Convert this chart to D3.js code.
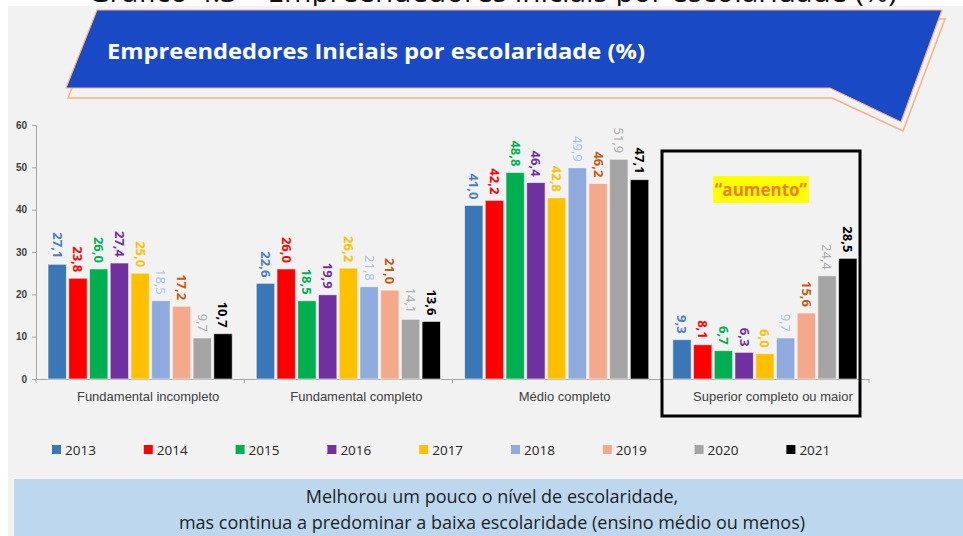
<!DOCTYPE html>
<html>
<head>
<meta charset="utf-8">
<script src="https://cdn.jsdelivr.net/npm/d3@7"></script>
<style>
  body { margin: 0; background: #fff; }
  svg { display: block; font-family: "Open Sans", sans-serif; }
</style>
</head>
<body>
<div id="chart"></div>
<script>
// data
const categories = ["Fundamental incompleto", "Fundamental completo", "Médio completo", "Superior completo ou maior"];
const years = ["2013", "2014", "2015", "2016", "2017", "2018", "2019", "2020", "2021"];
const fundIncompleto = [27.1, 23.8, 26.0, 27.4, 25.0, 18.5, 17.2, 9.7, 10.7];
const fundCompleto = [22.6, 26.0, 18.5, 19.9, 26.2, 21.8, 21.0, 14.1, 13.6];
const medioCompleto = [41.0, 42.2, 48.8, 46.4, 42.8, 49.9, 46.2, 51.9, 47.1];
const superior = [9.3, 8.1, 6.7, 6.3, 6.0, 9.7, 15.6, 24.4, 28.5];
const yTicks = [0, 10, 20, 30, 40, 50, 60];

// colours per year
const barColors = ["#3a77b7", "#ff0000", "#00b050", "#7030a0", "#ffc000", "#8faadc", "#f4aa8a", "#a5a5a5", "#000000"];
const labelColors = ["#4a7fc0", "#ff0000", "#00b050", "#7030a0", "#ffc000", "#9dc3e6", "#c55a11", "#a6a6a6", "#000000"];
const labelWeights = ["bold", "bold", "bold", "bold", "bold", "normal", "bold", "normal", "bold"];

const seriesByCat = [fundIncompleto, fundCompleto, medioCompleto, superior];
const table = [];
categories.forEach((c, i) => {
    years.forEach((y, j) => table.push({cat: c, year: y, yi: j, value: seriesByCat[i][j]}));
});

const width = 963, height = 536;
const svg = d3.select("#chart").append("svg")
    .attr("width", width)
    .attr("height", height);

// cut-off heading above the panel (only its bottom edge shows)
svg.append("text")
    .attr("x", 88).attr("y", 1.5)
    .attr("textLength", 809)
    .attr("lengthAdjust", "spacingAndGlyphs")
    .style("font-size", "27px")
    .attr("fill", "#111")
    .text("Gráfico 4.3 – Empreendedores iniciais por escolaridade (%)");

// gray panel
svg.append("rect")
    .attr("x", 8).attr("y", 6)
    .attr("width", width - 8).attr("height", height - 6)
    .attr("fill", "#f2f2f2");

// banner
const bannerBack = [[100, 19], [945, 19], [903, 131], [832, 98], [68, 98]];
const bannerFront = [[97, 10], [942, 10], [901, 122], [830, 88], [66, 88]];
svg.append("polygon")
    .attr("points", bannerBack.join(" "))
    .attr("fill", "none")
    .attr("stroke", "#f8b27e")
    .attr("stroke-width", 1.5);
svg.append("polygon")
    .attr("points", bannerFront.join(" "))
    .attr("fill", "#1a49c6")
    .attr("stroke", "#f8b27e")
    .attr("stroke-width", 1.2);
svg.append("text")
    .attr("x", 107).attr("y", 59)
    .attr("fill", "#fff")
    .attr("textLength", 538)
    .attr("lengthAdjust", "spacingAndGlyphs")
    .style("font-size", "22px")
    .style("font-weight", "bold")
    .text("Empreendedores Iniciais por escolaridade (%)");

// chart area
const margin = {left: 36, right: 94, top: 125, bottom: 157};
const plotBottom = height - margin.bottom;

const x0 = d3.scaleBand()
    .domain(categories)
    .range([margin.left, width - margin.right]);

const x1 = d3.scaleBand()
    .domain(years)
    .range([12, x0.bandwidth() - 12])
    .paddingInner(0.11);

const y = d3.scaleLinear()
    .domain([0, 60])
    .range([plotBottom, margin.top]);

// y axis
const yAxis = svg.append("g")
    .attr("transform", `translate(${margin.left},0)`)
    .call(d3.axisLeft(y).tickValues(yTicks).tickSize(4).tickPadding(5));
yAxis.select(".domain").attr("stroke", "#a6a6a6");
yAxis.selectAll(".tick line").attr("stroke", "#a6a6a6");
yAxis.selectAll("text")
    .style("font-size", "10px")
    .style("font-weight", "600")
    .attr("fill", "#404040");

// x axis with ticks on band boundaries
const xAxis = svg.append("g")
    .attr("transform", `translate(0,${plotBottom})`)
    .call(d3.axisBottom(x0).tickSize(0).tickPadding(13));
xAxis.select(".domain").attr("stroke", "#a6a6a6");
xAxis.selectAll("text")
    .attr("dx", 8) // labels sit a little right of the band centre in the original
    .style("font-size", "13px")
    .attr("fill", "#404040");
const bounds = categories.map(c => x0(c)).concat([x0.range()[1]]);
xAxis.selectAll(".bound")
    .data(bounds)
    .join("line")
    .attr("class", "bound")
    .attr("x1", d => d).attr("x2", d => d)
    .attr("y1", 0).attr("y2", 4)
    .attr("stroke", "#a6a6a6");

// bars
svg.append("g").selectAll("rect")
    .data(table)
    .join("rect")
    .attr("x", d => x0(d.cat) + x1(d.year))
    .attr("y", d => y(d.value))
    .attr("width", x1.bandwidth())
    .attr("height", d => plotBottom - y(d.value))
    .attr("fill", d => barColors[d.yi])
    .attr("stroke", "#ffffff")
    .attr("stroke-opacity", 0.6)
    .attr("stroke-width", 1);

// value labels, rotated
svg.append("g").selectAll("text")
    .data(table)
    .join("text")
    .attr("transform", d => `translate(${x0(d.cat) + x1(d.year) + x1.bandwidth() / 2},${y(d.value) - 6}) rotate(90)`)
    .attr("text-anchor", "end")
    .attr("dy", "0.35em")
    .style("font-size", "13px")
    .style("font-weight", d => labelWeights[d.yi])
    .attr("fill", d => labelColors[d.yi])
    .text(d => d.value.toFixed(1).replace(".", ","));

// highlight box around the last category
svg.append("rect")
    .attr("x", 662).attr("y", 151)
    .attr("width", 198).attr("height", 265)
    .attr("fill", "none")
    .attr("stroke", "#000")
    .attr("stroke-width", 3);

svg.append("rect")
    .attr("x", 713).attr("y", 176)
    .attr("width", 96).attr("height", 27)
    .attr("fill", "#ffff00");
svg.append("text")
    .attr("x", 761).attr("y", 196)
    .attr("text-anchor", "middle")
    .style("font-size", "17px")
    .style("font-weight", "bold")
    .attr("fill", "#ed7d31")
    .text("“aumento”");

// legend
const legend = svg.append("g").selectAll("g")
    .data(years)
    .join("g")
    .attr("transform", (d, i) => `translate(${52 + i * 91.8},445)`);
legend.append("rect")
    .attr("width", 9).attr("height", 9)
    .attr("fill", (d, i) => barColors[i]);
legend.append("text")
    .attr("x", 13).attr("y", 9.5)
    .style("font-size", "13.5px")
    .attr("fill", "#262626")
    .text(d => d);

// note box
svg.append("rect")
    .attr("x", 14).attr("y", 479)
    .attr("width", width - 14).attr("height", height - 479)
    .attr("fill", "#bdd7ee");
const note = svg.append("text")
    .attr("text-anchor", "middle")
    .style("font-size", "18px")
    .attr("fill", "#1f1f1f");
note.append("tspan").attr("x", 492).attr("y", 503)
    .text("Melhorou um pouco o nível de escolaridade,");
note.append("tspan").attr("x", 492).attr("y", 529)
    .text("mas continua a predominar a baixa escolaridade (ensino médio ou menos)");
</script>
</body>
</html>
